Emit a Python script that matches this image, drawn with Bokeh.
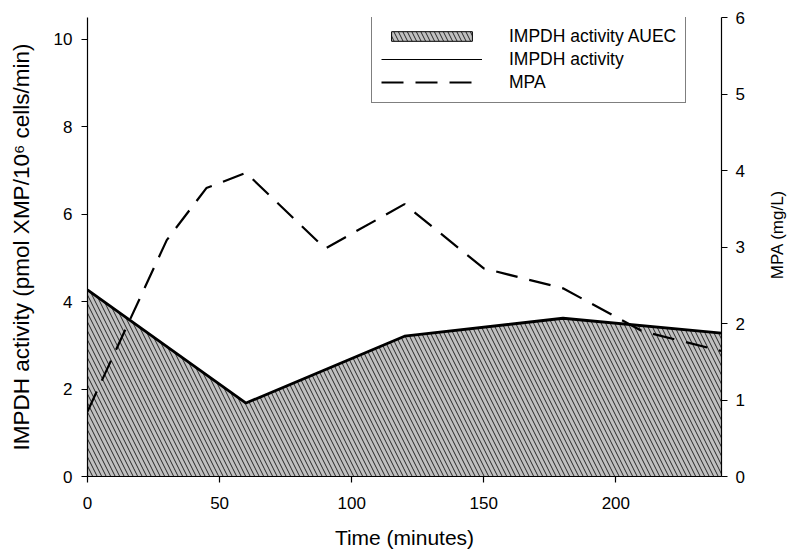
import math
from bokeh.plotting import figure
from bokeh.layouts import row
from bokeh.models import Range1d, LinearAxis, FixedTicker, Legend, LegendItem, Label
from bokeh.embed import file_html
from bokeh.resources import INLINE

# ---- data ----
time_impdh = [0, 60, 120, 180, 240]
impdh_activity = [4.27, 1.68, 3.21, 3.62, 3.28]
time_mpa = [0, 30, 45, 60, 90, 120, 150, 180, 210, 240]
mpa_conc = [0.85, 3.09, 3.77, 3.97, 2.98, 3.56, 2.72, 2.46, 1.90, 1.64]
left_ticks = [0, 2, 4, 6, 8, 10]
right_ticks = [0, 1, 2, 3, 4, 5, 6]
x_ticks = [0, 50, 100, 150, 200]

FONT = "Liberation Sans"

p = figure(width=760, height=551, output_backend="svg", toolbar_location=None,
           x_range=Range1d(0, 240), y_range=Range1d(0, 10.5),
           min_border_left=87, min_border_right=39, min_border_top=17,
           min_border_bottom=74)
p.outline_line_color = None
p.grid.visible = False
p.background_fill_color = "white"
p.extra_y_ranges = {"mpa": Range1d(0, 6)}

area_x = time_impdh + [time_impdh[-1], time_impdh[0]]
area_y = impdh_activity + [0, 0]
auec = p.patch(area_x, area_y, fill_color="#c0c0c0", line_color="black",
               line_width=1, hatch_pattern="\\", hatch_color="black",
               hatch_scale=9, hatch_weight=0.8)
act_leg = p.line(time_impdh, impdh_activity, line_color="black", line_width=1)
act = p.line(time_impdh, impdh_activity, line_color="black", line_width=2.8)
mpa = p.line(time_mpa, mpa_conc, y_range_name="mpa", line_color="black",
             line_width=2.2, line_dash="22 12")

right = LinearAxis(y_range_name="mpa")
p.add_layout(right, "right")

p.xaxis.axis_label = "Time (minutes)"
p.yaxis[0].axis_label = "IMPDH activity (pmol XMP/10\u2076 cells/min)"

p.xaxis.ticker = FixedTicker(ticks=x_ticks)
p.yaxis[0].ticker = FixedTicker(ticks=left_ticks)
right.ticker = FixedTicker(ticks=right_ticks)

for ax in [p.xaxis[0], p.yaxis[0], right]:
    ax.major_label_text_font = FONT
    ax.major_label_text_font_size = "17px"
    ax.major_label_text_color = "black"
    ax.axis_label_text_font = FONT
    ax.axis_label_text_font_style = "normal"
    ax.axis_label_text_color = "black"
    ax.major_tick_out = 6
    ax.major_tick_in = 0
    ax.minor_tick_line_color = None
    ax.axis_line_width = 1.2
    ax.major_tick_line_width = 1.2
    ax.axis_line_color = "black"
    ax.major_tick_line_color = "black"

p.xaxis[0].axis_label_text_font_size = "21px"
p.xaxis[0].major_label_standoff = 14
p.xaxis[0].axis_label_standoff = 14
p.yaxis[0].axis_label_text_font_size = "22.5px"
p.yaxis[0].major_label_standoff = 9
p.yaxis[0].axis_label_standoff = 17
right.major_label_standoff = 8

legend = Legend(items=[
    LegendItem(label="IMPDH activity AUEC", renderers=[auec]),
    LegendItem(label="IMPDH activity", renderers=[act_leg]),
    LegendItem(label="MPA", renderers=[mpa]),
], location=(284, 373))
legend.label_text_font = FONT
legend.label_text_font_size = "17.5px"
legend.label_text_color = "black"
legend.glyph_width = 101
legend.glyph_height = 12
legend.label_height = 22
legend.label_standoff = 27
legend.spacing = 1
legend.padding = 9
legend.margin = 0
legend.border_line_color = "black"
legend.border_line_width = 1
legend.background_fill_alpha = 1
p.add_layout(legend)

# narrow strip holding the right-axis title (reads bottom-to-top)
t = figure(width=31, height=551, output_backend="svg", toolbar_location=None,
           x_range=Range1d(0, 1), y_range=Range1d(0, 1), min_border=0)
t.axis.visible = False
t.grid.visible = False
t.outline_line_color = None
t.add_layout(Label(x=17, y=242, x_units="screen", y_units="screen",
                   text="MPA (mg/L)", angle=math.pi / 2,
                   text_align="center", text_baseline="middle",
                   text_font=FONT, text_font_size="17px", text_color="black"))

layout = row(p, t, spacing=0)
open("out.html", "w").write(file_html(layout, INLINE))
